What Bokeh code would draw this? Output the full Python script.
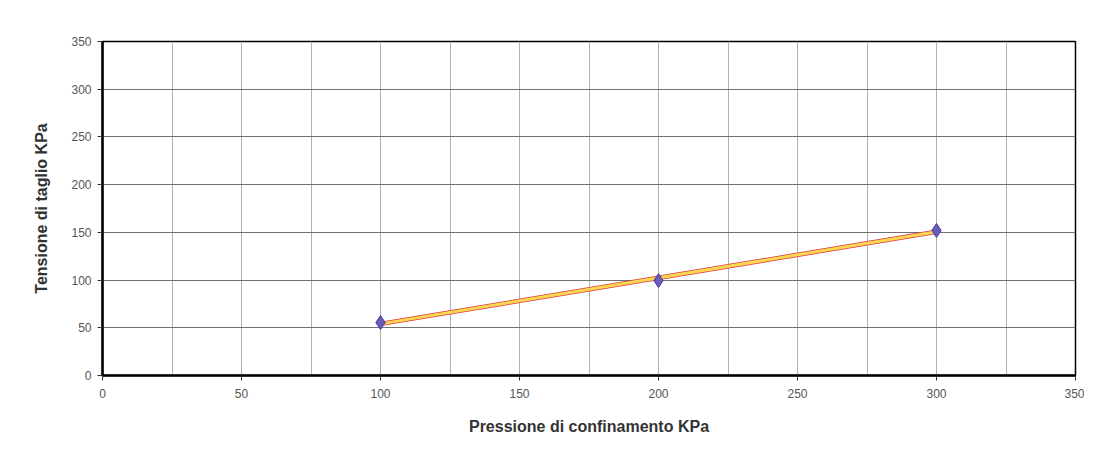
import numpy as np
from bokeh.plotting import figure
from bokeh.models import FixedTicker, Range1d
from bokeh.embed import file_html
from bokeh.resources import INLINE

# data
pressione = [100, 200, 300]          # KPa
tensione = [55.5, 99.5, 152]         # KPa
x_ticks = [0, 50, 100, 150, 200, 250, 300, 350]
y_ticks = [0, 50, 100, 150, 200, 250, 300, 350]
x_grid = list(range(0, 351, 25))

# linear trendline from data
slope, intercept = np.polyfit(pressione, tensione, 1)
trend_x = [min(pressione), max(pressione)]
trend_y = [slope * v + intercept for v in trend_x]

p = figure(width=1084, height=437, output_backend="svg", toolbar_location=None,
           x_range=Range1d(0, 350), y_range=Range1d(0, 350),
           min_border_left=102, min_border_right=9, min_border_top=41, min_border_bottom=62)
p.background_fill_color = "white"
p.border_fill_color = "white"
p.outline_line_color = "black"
p.outline_line_width = 1.5

font = "Liberation Sans"
for ax in (p.xaxis[0], p.yaxis[0]):
    ax.axis_line_color = "black"
    ax.axis_line_width = 2.5
    ax.major_tick_line_color = "#333333"
    ax.major_tick_out = 5
    ax.major_tick_in = 0
    ax.minor_tick_line_color = None
    ax.major_label_text_font = font
    ax.major_label_text_font_size = "12px"
    ax.major_label_text_color = "#555555"
    ax.axis_label_text_font = font
    ax.axis_label_text_font_size = "16px"
    ax.axis_label_text_font_style = "bold"
    ax.axis_label_text_color = "#333333"

p.xaxis.ticker = FixedTicker(ticks=x_ticks)
p.yaxis.ticker = FixedTicker(ticks=y_ticks)
p.xaxis.axis_label = "Pressione di confinamento KPa"
p.yaxis.axis_label = "Tensione di taglio KPa"
p.xaxis.major_label_standoff = 8
p.xaxis.axis_label_standoff = 17
p.yaxis.major_label_standoff = 6
p.yaxis.axis_label_standoff = 18

p.xgrid.ticker = FixedTicker(ticks=x_grid)
p.xgrid.grid_line_color = "#b0b0b0"
p.xgrid.grid_line_width = 1
p.ygrid.ticker = FixedTicker(ticks=y_ticks)
p.ygrid.grid_line_color = "#707070"
p.ygrid.grid_line_width = 1

p.line(trend_x, trend_y, line_color="#e03848", line_width=4.5)
p.line(trend_x, trend_y, line_color="#f8d850", line_width=3)
p.scatter(pressione, tensione, marker="diamond", size=14,
          fill_color="#6a5cb8", line_color="#4a3c98", line_width=1)

open("out.html", "w").write(file_html(p, INLINE))
